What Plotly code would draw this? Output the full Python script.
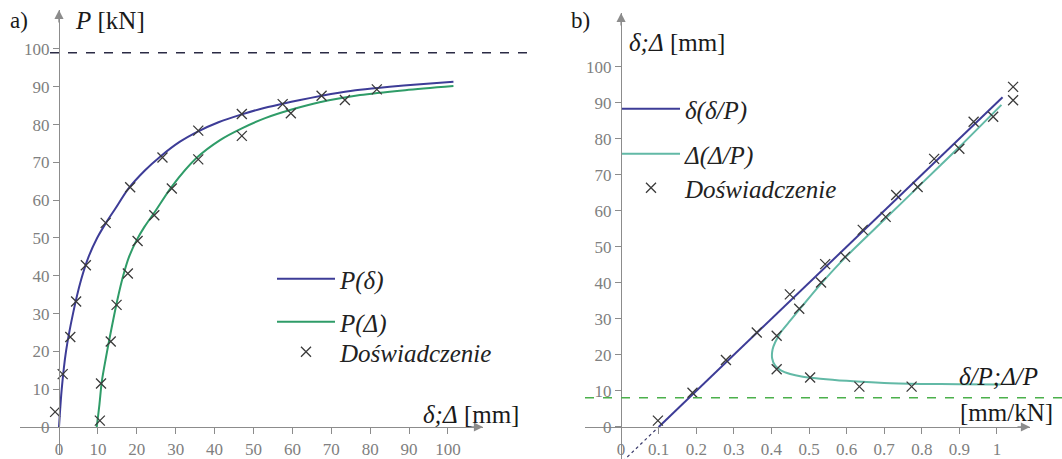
import plotly.graph_objects as go

# ---------------- data: panel a) P(delta), P(Delta) ----------------
delta_a = [0, 0.7, 1.8, 3.6, 5.7, 7.6, 9.8, 12.2, 14.5, 17.8, 22, 26, 31, 35.8, 41, 47, 52,
           57.5, 62, 67.5, 72, 77.4, 85, 92, 101.4]
P_delta = [0, 10, 20, 30, 39, 45, 50, 54.2, 57.8, 63.0, 67.8, 71.5, 75.4, 78.2, 80.6, 82.7,
           84.2, 85.5, 86.5, 87.6, 88.4, 89.2, 90.0, 90.6, 91.3]

Delta_a = [9.7, 10.4, 11, 12, 13.1, 15, 16.5, 18, 20, 22, 24.7, 29, 35.4, 41.4, 47, 53,
           59.6, 67, 77.4, 89, 101.4]
P_Delta = [0, 6, 12, 18, 24, 33.6, 40, 45, 49.5, 53, 57, 63.6, 71.2, 75.9, 79, 81.7, 83.9,
           85.9, 87.8, 89.1, 90.2]

exp_a_x = [-1, 0.95, 2.9, 4.4, 6.9, 12, 18.3, 26.6, 35.8, 47, 57.5, 67.5, 81.7,
           10.5, 10.8, 13.3, 14.8, 17.7, 20.2, 24.5, 29, 35.8, 47, 59.6, 73.5]
exp_a_y = [4, 14, 23.8, 33.2, 42.8, 54, 63.4, 71.3, 78.4, 82.8, 85.4, 87.6, 89.3,
           1.7, 11.5, 22.6, 32.3, 40.6, 49.2, 56, 63.1, 70.8, 77, 83, 86.5]

P_limit = 99

# ---------------- data: panel b) delta(delta/P), Delta(Delta/P) ----------------
dP_b = [0.1, 0.3, 0.5, 0.7, 0.9, 1.015]
d_b = [0, 20, 40, 60, 80, 91.5]
dP_ext = [0.005, 0.1]
d_ext = [-9.5, 0]

DP_b = [1.01, 0.9, 0.8, 0.7, 0.6, 0.53, 0.48, 0.45, 0.425, 0.41, 0.402, 0.403, 0.41,
        0.425, 0.45, 0.48, 0.53, 0.6, 0.7, 0.8, 0.9, 1.012]
D_b = [11.8, 11.85, 11.95, 12.2, 12.8, 13.4, 14.0, 14.7, 15.7, 17, 19, 21.5, 23.5,
       26.3, 29.5, 33.3, 39.5, 47.4, 57.5, 67.6, 77.7, 89.4]

exp_b_x = [0.098, 0.19, 0.279, 0.361, 0.449, 0.543, 0.414, 0.414, 0.503, 0.474, 0.532,
           0.596, 0.634, 0.773, 0.643, 0.704, 0.732, 0.789, 0.833, 0.90, 0.938, 0.99,
           1.043, 1.043]
exp_b_y = [1.75, 9.5, 18.6, 26.2, 36.8, 45.2, 25.3, 16, 13.7, 32.8, 40.1,
           47.2, 11.2, 11.2, 54.7, 58.3, 64.4, 66.6, 74.4, 77.2, 84.7, 86.1,
           94.4, 90.7]

b_asym = 8.1

ticks_a = [0, 10, 20, 30, 40, 50, 60, 70, 80, 90, 100]
ticks_bx = [0, 0.1, 0.2, 0.3, 0.4, 0.5, 0.6, 0.7, 0.8, 0.9, 1]
ticks_bx_text = ["0", "0.1", "0.2", "0.3", "0.4", "0.5", "0.6", "0.7", "0.8", "0.9", "1"]

# ---------------- style ----------------
W, H = 1062, 459
BLUE = "#3d3c97"
GREEN = "#2f9c68"
GREEN_B = "#62b9a6"
AXC = "#8c8c8c"
TICKC = "#808080"
SERIF = "Liberation Serif"
MK = dict(symbol="x-thin", size=10, line=dict(color="#3a3a3a", width=1.3), color="#3a3a3a")


def px_x(p):
    return p / W


def px_y(p):
    return (H - p) / H


fig = go.Figure()

# panel a
fig.add_trace(go.Scatter(x=delta_a, y=P_delta, mode="lines", name="<i>P(δ)</i>",
                         line=dict(color=BLUE, width=2, shape="spline", smoothing=0.8),
                         xaxis="x", yaxis="y", legend="legend"))
fig.add_trace(go.Scatter(x=Delta_a, y=P_Delta, mode="lines", name="<i>P(Δ)</i>",
                         line=dict(color=GREEN, width=2, shape="spline", smoothing=0.8),
                         xaxis="x", yaxis="y", legend="legend2"))
fig.add_trace(go.Scatter(x=exp_a_x, y=exp_a_y, mode="markers", name="<i>Doświadczenie</i>",
                         marker=MK, xaxis="x", yaxis="y", legend="legend3"))

# panel b
fig.add_trace(go.Scatter(x=dP_ext, y=d_ext, mode="lines", showlegend=False,
                         line=dict(color="#3a3a6a", width=1.2, dash="dot"),
                         xaxis="x2", yaxis="y2"))
fig.add_trace(go.Scatter(x=DP_b, y=D_b, mode="lines", name="<i>Δ(Δ/P)</i>",
                         line=dict(color=GREEN_B, width=2, shape="spline", smoothing=0.7),
                         xaxis="x2", yaxis="y2", legend="legend5"))
fig.add_trace(go.Scatter(x=dP_b, y=d_b, mode="lines", name="<i>δ(δ/P)</i>",
                         line=dict(color=BLUE, width=2),
                         xaxis="x2", yaxis="y2", legend="legend4"))
fig.add_trace(go.Scatter(x=exp_b_x, y=exp_b_y, mode="markers", name="<i>Doświadczenie</i>",
                         marker=MK, xaxis="x2", yaxis="y2", legend="legend6"))

ax_common = dict(showgrid=False, zeroline=False, showline=True, linecolor=AXC, linewidth=1.4,
                 ticks="outside", ticklen=6, tickwidth=1.2, tickcolor=AXC,
                 tickfont=dict(family=SERIF, size=17, color=TICKC), anchor="free")


def leg(xl, yc):
    # one legend entry, placed by its line start (xl) and centre line (yc) in pixels
    return dict(x=px_x(xl), y=px_y(yc), xanchor="left", yanchor="middle",
                bgcolor="rgba(0,0,0,0)", itemwidth=58,
                font=dict(family=SERIF, size=25, color="#222"))


fig.update_layout(
    width=W, height=H, margin=dict(l=0, r=0, t=0, b=0),
    paper_bgcolor="white", plot_bgcolor="rgba(0,0,0,0)",
    xaxis=dict(domain=[px_x(20.1), px_x(483)], range=[-10, 109], tickvals=ticks_a,
               position=px_y(427), **ax_common),
    yaxis=dict(domain=[px_y(455), px_y(10)], range=[-7.4, 110.3], tickvals=ticks_a,
               position=px_x(59), **ax_common),
    xaxis2=dict(domain=[px_x(585), px_x(1030)], range=[-0.096, 1.088], tickvals=ticks_bx,
                ticktext=ticks_bx_text, position=px_y(427), **ax_common),
    yaxis2=dict(domain=[px_y(459), px_y(13)], range=[-8.9, 114.9], tickvals=ticks_a,
                position=px_x(621), **ax_common),
    legend=leg(272, 279),
    legend2=leg(272, 322),
    legend3=leg(272, 352),
    legend4=leg(617, 109),
    legend5=leg(617, 154),
    legend6=leg(617, 188),
    showlegend=True,
)

# reference lines
fig.add_shape(type="line", xref="paper", yref="y", x0=px_x(50), x1=px_x(527),
              y0=P_limit, y1=P_limit, line=dict(color="#2b2b45", width=1.4, dash="dash"))
fig.add_shape(type="line", xref="paper", yref="y2", x0=px_x(585), x1=1.0,
              y0=b_asym, y1=b_asym, line=dict(color="#4bb04b", width=1.6, dash="dash"))


def arrow(x, y, xr, yr, ax, ay):
    fig.add_annotation(x=x, y=y, xref=xr, yref=yr, ax=ax, ay=ay, text="", showarrow=True,
                       arrowhead=2, arrowsize=1.3, arrowwidth=1.4, arrowcolor=AXC)


arrow(109, 0, "x", "y", -14, 0)
arrow(0, 110.3, "x", "y", 0, 14)
arrow(1.088, 0, "x2", "y2", -14, 0)
arrow(0, 114.9, "x2", "y2", 0, 14)


def label(txt, xc, yc, size=25):
    fig.add_annotation(x=px_x(xc), y=px_y(yc), xref="paper", yref="paper", text=txt,
                       showarrow=False, xanchor="center", yanchor="middle",
                       font=dict(family=SERIF, size=size, color="#1a1a1a"))


label("a)", 19, 20, size=23)
label("<i>P</i> [kN]", 110, 20)
label("<i>δ;Δ</i> [mm]", 471, 414)
label("b)", 580, 20, size=23)
label("<i>δ;Δ</i> [mm]", 677, 42)
label("<i>δ/P;Δ/P</i>", 998, 376)
label("[mm/kN]", 1006, 412)

fig.write_html("out.html")
